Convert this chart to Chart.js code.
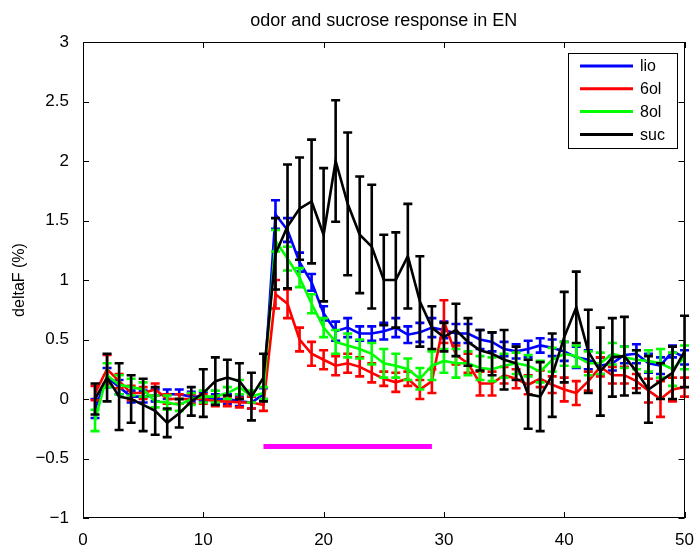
<!DOCTYPE html>
<html>
<head>
<meta charset="utf-8">
<script src="https://cdn.jsdelivr.net/npm/chart.js@4/dist/chart.umd.min.js"></script>
<style>
  html, body { margin: 0; padding: 0; background: #fff; }
  #wrap { width: 698px; height: 545px; }
</style>
</head>
<body>
<div id="wrap"><canvas id="resp-chart" width="698" height="545"></canvas></div>
<script>
// frame numbers
var frames = []
for (var i = 1; i <= 50; i++) frames.push(i)

var lio = [-0.08,0.18,0.1,0.02,0.02,0.03,0.04,0.04,0.02,0.02,0.0,0.0,-0.02,-0.03,0.04,
  1.55,1.42,1.15,0.98,0.72,0.57,0.6,0.55,0.55,0.57,0.6,0.54,0.56,0.6,0.58,
  0.55,0.55,0.5,0.48,0.42,0.4,0.42,0.45,0.43,0.4,0.35,0.33,0.28,0.3,0.37,0.38,0.3,0.28,0.4,0.35]
var lioErr = [0.08,0.08,0.06,0.05,0.05,0.05,0.04,0.04,0.04,0.04,0.04,0.04,0.04,0.05,0.05,
  0.12,0.1,0.08,0.07,0.06,0.08,0.08,0.06,0.06,0.07,0.08,0.07,0.08,0.08,0.07,
  0.08,0.08,0.08,0.08,0.06,0.06,0.07,0.06,0.07,0.08,0.09,0.08,0.07,0.06,0.07,0.08,0.08,0.07,0.05,0.06]

var ol6 = [0.05,0.25,0.15,0.05,0.05,0.08,0.0,0.0,0.0,0.0,-0.02,-0.02,-0.03,-0.03,-0.05,
  0.88,0.8,0.5,0.38,0.33,0.28,0.3,0.27,0.22,0.17,0.14,0.17,0.08,0.15,0.65,
  0.37,0.3,0.13,0.13,0.2,0.17,0.12,0.17,0.12,0.08,0.05,0.15,0.27,0.2,0.2,0.15,0.07,0.0,0.08,0.1]
var ol6Err = [0.06,0.12,0.06,0.06,0.05,0.05,0.04,0.04,0.04,0.04,0.04,0.04,0.04,0.05,0.05,
  0.12,0.12,0.1,0.1,0.08,0.08,0.08,0.08,0.08,0.06,0.08,0.06,0.08,0.1,0.18,
  0.08,0.08,0.1,0.1,0.07,0.08,0.08,0.07,0.07,0.1,0.1,0.08,0.08,0.07,0.07,0.06,0.1,0.15,0.1,0.08]

var ol8 = [-0.18,0.2,0.12,0.1,0.08,-0.02,-0.03,-0.05,0.0,0.02,0.02,0.05,0.1,0.02,0.05,
  1.33,1.18,1.02,0.8,0.6,0.48,0.45,0.42,0.38,0.3,0.28,0.25,0.17,0.28,0.32,
  0.3,0.3,0.26,0.25,0.28,0.3,0.28,0.23,0.33,0.38,0.36,0.3,0.3,0.38,0.35,0.33,0.32,0.3,0.25,0.35]
var ol8Err = [0.09,0.1,0.08,0.07,0.06,0.05,0.06,0.05,0.05,0.05,0.05,0.05,0.06,0.05,0.05,
  0.09,0.1,0.08,0.08,0.08,0.1,0.1,0.08,0.09,0.12,0.1,0.09,0.09,0.12,0.1,
  0.12,0.1,0.1,0.1,0.1,0.09,0.09,0.09,0.1,0.1,0.09,0.1,0.09,0.09,0.09,0.08,0.09,0.12,0.14,0.1]

var suc = [0.0,0.18,0.02,0.0,-0.05,-0.1,-0.2,-0.12,-0.02,0.05,0.15,0.18,0.15,0.02,0.18,
  1.22,1.45,1.6,1.66,1.38,2.0,1.64,1.38,1.28,1.0,1.0,1.2,0.82,0.6,0.52,
  0.58,0.48,0.41,0.38,0.33,0.3,0.04,0.02,0.2,0.52,0.77,0.4,0.23,0.35,0.36,0.23,0.08,0.15,0.22,0.4]
var sucErr = [0.13,0.2,0.28,0.2,0.22,0.2,0.12,0.12,0.12,0.2,0.2,0.15,0.15,0.2,0.2,
  0.3,0.52,0.43,0.52,0.56,0.51,0.6,0.49,0.52,0.38,0.4,0.44,0.38,0.18,0.12,
  0.22,0.2,0.17,0.18,0.25,0.14,0.29,0.29,0.35,0.38,0.3,0.35,0.37,0.33,0.33,0.18,0.28,0.15,0.22,0.3]

// sucrose stimulus window
var stimX = [15, 29]
var stimY = -0.4

var xTicks = [0, 10, 20, 30, 40, 50]
var yTicks = [-1, -0.5, 0, 0.5, 1, 1.5, 2, 2.5, 3]

var seriesNames = ['lio', '6ol', '8ol', 'suc']
var seriesColors = ['#0000ff', '#ff0000', '#00ff00', '#000000']
var seriesMeans = [lio, ol6, ol8, suc]
var seriesErrs = [lioErr, ol6Err, ol8Err, sucErr]

var font = "'Liberation Sans', Arial, sans-serif"

function toPoints(vals) {
    return frames.map(function(f, i) { return { x: f, y: vals[i] } })
}

var datasets = seriesNames.map(function(name, i) {
    return {
        label: name,
        data: toPoints(seriesMeans[i]),
        errors: seriesErrs[i],
        borderColor: seriesColors[i],
        backgroundColor: seriesColors[i],
        borderWidth: 2.6,
        pointRadius: 0,
        tension: 0,
        order: 4 - i // black drawn last
    }
})
datasets.push({
    label: 'stim',
    data: [{ x: stimX[0], y: stimY }, { x: stimX[1], y: stimY }],
    borderColor: '#ff00ff',
    borderWidth: 5,
    pointRadius: 0,
    order: 10
})

// error bars with little caps, drawn right after each line
var errorBars = {
    id: 'errorBars',
    afterDatasetDraw: function(chart, args) {
        var ds = chart.data.datasets[args.index]
        if (!ds.errors) return
        var ctx = chart.ctx, xs = chart.scales.x, ys = chart.scales.y
        ctx.save()
        ctx.strokeStyle = ds.borderColor
        ctx.lineWidth = 2.6
        ctx.lineCap = 'butt'
        ds.data.forEach(function(p, i) {
            var px = xs.getPixelForValue(p.x)
            var top = ys.getPixelForValue(p.y + ds.errors[i])
            var bot = ys.getPixelForValue(p.y - ds.errors[i])
            ctx.beginPath()
            ctx.moveTo(px, top); ctx.lineTo(px, bot)
            ctx.moveTo(px - 4.5, top); ctx.lineTo(px + 4.5, top)
            ctx.moveTo(px - 4.5, bot); ctx.lineTo(px + 4.5, bot)
            ctx.stroke()
        })
        ctx.restore()
    }
}

// box, inward ticks, title, y label and legend
var axesBox = {
    id: 'axesBox',
    afterDraw: function(chart) {
        var ctx = chart.ctx, a = chart.chartArea
        var xs = chart.scales.x, ys = chart.scales.y
        ctx.save()
        ctx.strokeStyle = '#000'
        ctx.lineWidth = 1
        ctx.strokeRect(Math.round(a.left) + 0.5, Math.round(a.top) + 0.5,
            Math.round(a.right - a.left) - 1, Math.round(a.bottom - a.top) - 1)
        ctx.beginPath()
        xTicks.forEach(function(v) {
            var px = Math.round(xs.getPixelForValue(v)) + 0.5
            ctx.moveTo(px, a.bottom); ctx.lineTo(px, a.bottom - 6)
            ctx.moveTo(px, a.top); ctx.lineTo(px, a.top + 6)
        })
        yTicks.forEach(function(v) {
            var py = Math.round(ys.getPixelForValue(v)) + 0.5
            ctx.moveTo(a.left, py); ctx.lineTo(a.left + 6, py)
            ctx.moveTo(a.right, py); ctx.lineTo(a.right - 6, py)
        })
        ctx.stroke()

        ctx.fillStyle = '#000'
        ctx.font = '18px ' + font
        ctx.textAlign = 'center'
        ctx.textBaseline = 'middle'
        ctx.fillText('odor and sucrose response in EN', (a.left + a.right) / 2, 21)

        ctx.save()
        ctx.font = '16px ' + font
        ctx.translate(20, (a.top + a.bottom) / 2)
        ctx.rotate(-Math.PI / 2)
        ctx.fillText('deltaF (%)', 0, 0)
        ctx.restore()

        // legend
        var lx = 568, ly = 53, lw = 109, lh = 95
        ctx.fillStyle = '#fff'
        ctx.fillRect(lx, ly, lw, lh)
        ctx.strokeRect(lx + 0.5, ly + 0.5, lw, lh)
        ctx.textAlign = 'left'
        ctx.font = '16px ' + font
        seriesNames.forEach(function(name, i) {
            var ry = ly + 13 + i * 22.8
            ctx.strokeStyle = seriesColors[i]
            ctx.lineWidth = 3
            ctx.beginPath()
            ctx.moveTo(lx + 12, ry); ctx.lineTo(lx + 65, ry)
            ctx.stroke()
            ctx.fillStyle = '#000'
            ctx.fillText(name, lx + 72, ry + 1)
        })
        ctx.restore()
    }
}

new Chart(
    document.getElementById('resp-chart').getContext('2d'),
    {
        type: 'line',
        data: { datasets: datasets },
        options: {
            responsive: false,
            animation: false,
            layout: { padding: { top: 42, right: 12, left: 0, bottom: 0 } },
            plugins: {
                legend: { display: false },
                tooltip: { enabled: false },
                title: { display: false }
            },
            scales: {
                x: {
                    type: 'linear',
                    min: 0,
                    max: 50,
                    grid: { display: false },
                    border: { display: false },
                    afterFit: function(s) { s.height = 27 },
                    afterBuildTicks: function(s) { s.ticks = xTicks.map(function(v) { return { value: v } }) },
                    ticks: { color: '#000', font: { family: font, size: 17 }, padding: 4, maxRotation: 0 }
                },
                y: {
                    min: -1,
                    max: 3,
                    grid: { display: false },
                    border: { display: false },
                    afterFit: function(s) { s.width = 83 },
                    afterBuildTicks: function(s) { s.ticks = yTicks.map(function(v) { return { value: v } }) },
                    ticks: {
                        color: '#000',
                        font: { family: font, size: 17 },
                        padding: 6,
                        callback: function(v) { return v < 0 ? '\u2212' + Math.abs(v) : '' + v }
                    }
                }
            }
        },
        plugins: [errorBars, axesBox]
    }
)
</script>
</body>
</html>
